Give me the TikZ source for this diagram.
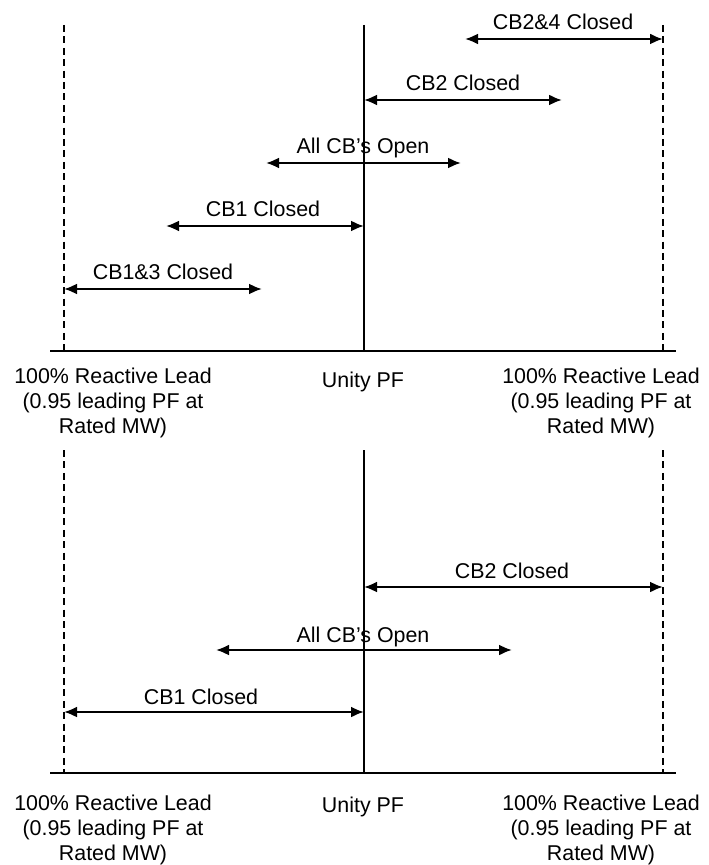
\documentclass[tikz,border=0pt]{standalone}
\usepackage{fontspec}
\setmainfont{Liberation Sans}
\usetikzlibrary{arrows.meta,positioning}

\begin{document}
\begin{tikzpicture}[
      x=0.5pt, y=-0.5pt,
      limit/.style={dash pattern=on 3.5pt off 2.2pt, line width=0.6pt},
      unity/.style={line width=0.6pt},
      axis/.style={line width=0.9pt},
      oprange/.style={{Latex[length=6.5pt,width=5.5pt]}-{Latex[length=6.5pt,width=5.5pt]}, line width=1.1pt},
      rlabel/.style={anchor=base, inner sep=0pt, font=\fontsize{10.7}{12.5}\selectfont},
      endlabel/.style={align=center, inner sep=0pt, font=\fontsize{10.7}{12.5}\selectfont}
    ]
    \useasboundingbox (0,0) rectangle (708,865);

    % ============ TOP PANEL ============
    % Limits and axis
    \coordinate (tLtop) at (64,25);   \coordinate (tLbot) at (64,351);
    \coordinate (tRtop) at (663,25);  \coordinate (tRbot) at (663,351);
    \coordinate (tCtop) at (364,25);  \coordinate (tCbot) at (364,351);
    \coordinate (tAxL) at (50,351);   \coordinate (tAxR) at (676,351);

    \draw[limit] (tLtop) -- (tLbot);
    \draw[limit] (tRtop) -- (tRbot);
    \draw[unity] (tCtop) -- (tCbot);
    \draw[axis] (tAxL) -- (tAxR);

    % Operating ranges
    \coordinate (cb24a) at (465,39);  \coordinate (cb24b) at (663,39);
    \coordinate (cb2a) at (364,100);  \coordinate (cb2b) at (562,100);
    \coordinate (opena) at (266,163); \coordinate (openb) at (461,163);
    \coordinate (cb1a) at (166,226);  \coordinate (cb1b) at (364,226);
    \coordinate (cb13a) at (64,289);  \coordinate (cb13b) at (262,289);

    \draw[oprange] (cb24a) -- (cb24b);
    \draw[oprange] (cb2a) -- (cb2b);
    \draw[oprange] (opena) -- (openb);
    \draw[oprange] (cb1a) -- (cb1b);
    \draw[oprange] (cb13a) -- (cb13b);

    \node[rlabel] (cb24) at (563,30) {CB2\&4 Closed};
    \node[rlabel] (cb2) at (463,91) {CB2 Closed};
    \node[rlabel] (open) at (363,154) {All CB's Open};
    \node[rlabel] (cb1) at (263,217) {CB1 Closed};
    \node[rlabel] (cb13) at (163,280) {CB1\&3 Closed};

    % End labels
    \node[endlabel] (tleft) at (113,403) {100\% Reactive Lead\\(0.95 leading PF at\\Rated MW)};
    \node[endlabel] (tunity) at (363,382) {Unity PF};
    \node[endlabel] (tright) at (601,403) {100\% Reactive Lead\\(0.95 leading PF at\\Rated MW)};

    % ============ BOTTOM PANEL ============
    % Limits and axis
    \coordinate (bLtop) at (64,450);   \coordinate (bLbot) at (64,773);
    \coordinate (bRtop) at (663,450);  \coordinate (bRbot) at (663,773);
    \coordinate (bCtop) at (364,450);  \coordinate (bCbot) at (364,773);
    \coordinate (bAxL) at (50,773);    \coordinate (bAxR) at (676,773);

    \draw[limit] (bLtop) -- (bLbot);
    \draw[limit] (bRtop) -- (bRbot);
    \draw[unity] (bCtop) -- (bCbot);
    \draw[axis] (bAxL) -- (bAxR);

    % Operating ranges
    \coordinate (bcb2a) at (364,587);  \coordinate (bcb2b) at (663,587);
    \coordinate (bopena) at (216,650); \coordinate (bopenb) at (512,650);
    \coordinate (bcb1a) at (64,712);   \coordinate (bcb1b) at (364,712);

    \draw[oprange] (bcb2a) -- (bcb2b);
    \draw[oprange] (bopena) -- (bopenb);
    \draw[oprange] (bcb1a) -- (bcb1b);

    \node[rlabel] (bcb2) at (512,578) {CB2 Closed};
    \node[rlabel] (bopen) at (363,642) {All CB's Open};
    \node[rlabel] (bcb1) at (201,704) {CB1 Closed};

    % End labels
    \node[endlabel] (bleft) at (113,830) {100\% Reactive Lead\\(0.95 leading PF at\\Rated MW)};
    \node[endlabel] (bunity) at (363,807) {Unity PF};
    \node[endlabel] (bright) at (601,830) {100\% Reactive Lead\\(0.95 leading PF at\\Rated MW)};

  \end{tikzpicture}
\end{document}
